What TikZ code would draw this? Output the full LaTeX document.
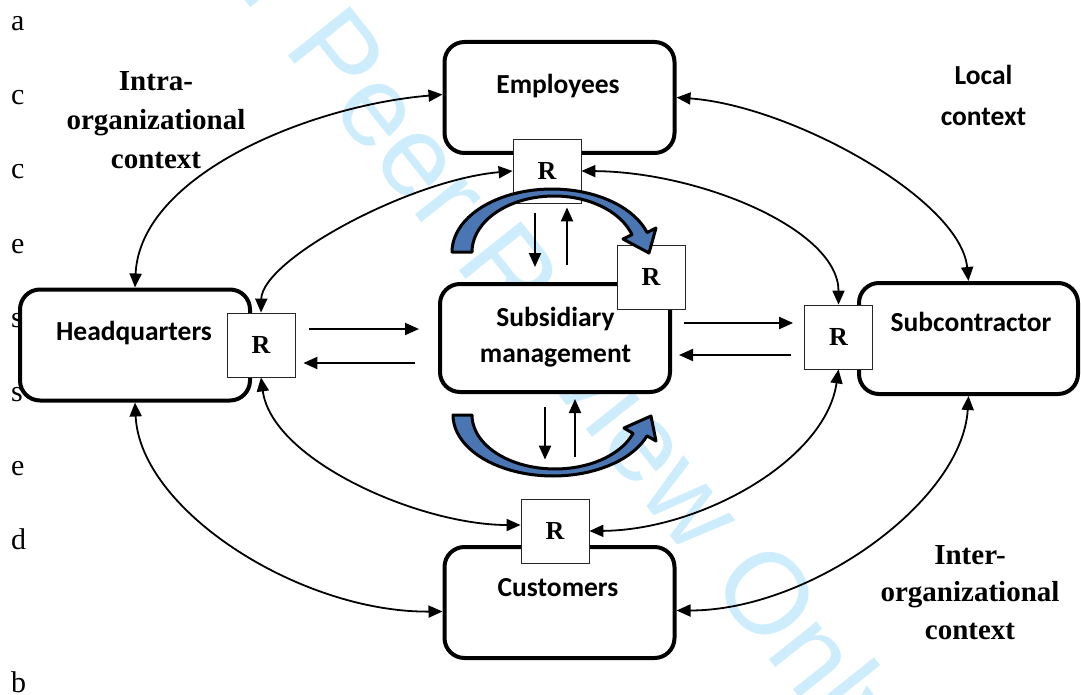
\documentclass[tikz,border=0pt]{standalone}
\usepackage{fontspec}
\setmainfont{Liberation Serif}
\newfontfamily\calibri{Carlito}
\newfontfamily\wmarkfont{Liberation Sans}
\usetikzlibrary{arrows.meta,calc}
\definecolor{wmblue}{RGB}{206,237,252}
\definecolor{bandblue}{RGB}{74,118,180}
\pgfdeclarelayer{background}
\pgfsetlayers{background,main}

\begin{document}
\begin{tikzpicture}[x=1pt,y=-1pt,
    unit/.style={draw,line width=4pt,rounded corners=20pt,fill=white,minimum width=230pt,minimum height=111pt,inner sep=0pt},
    unitlbl/.style={font=\calibri\bfseries\fontsize{27.5}{35.7}\selectfont,align=center,inner sep=0pt},
    rbox/.style={draw=black!85,line width=0.8pt,fill=white,minimum width=68pt,minimum height=64pt,inner sep=0pt,font=\bfseries\fontsize{26}{30}\selectfont},
    ctx/.style={font=\bfseries\fontsize{29}{38}\selectfont,align=center,inner sep=0pt},
    link/.style={{Triangle[length=14pt,width=12pt]}-{Triangle[length=14pt,width=12pt]},line width=1.8pt},
    flow/.style={-{Triangle[length=14pt,width=12pt]},line width=2pt},
    band/.style={fill=bandblue,draw=black,line width=3pt,line join=round}]
    \useasboundingbox (0,0) rectangle (1081,695);

    % watermark and line letters of the review copy
    \begin{pgfonlayer}{background}
        \node[rotate=-51.5,text=wmblue,font=\wmarkfont\fontsize{115}{115}\selectfont,inner sep=0pt] (wmark) at (529,310) {For Peer Review Only};
        \foreach \ch/\yy in {a/31,c/105,c/179,e/253,s/327,s/401,e/475,d/549,b/692} {
            \node[anchor=base west,inner sep=0pt,font=\fontsize{30}{36}\selectfont] (line\yy) at (11,\yy) {\ch};
        };
    \end{pgfonlayer}

    % units
    \node[unit] (emp) at (559.5,97.5) {};
    \node[unit,minimum height=108pt] (subm) at (555,338) {};
    \node[unit] (hq) at (135,345) {};
    \node[unit,minimum width=219pt] (sub) at (968.5,338.5) {};
    \node[unit] (cust) at (559.5,602.5) {};

    \node[unitlbl,anchor=base] (emptxt) at (558,94) {Employees};
    \node[unitlbl] (submtxt) at (555.5,337) {Subsidiary\\management};
    \node[unitlbl,anchor=base] (hqtxt) at (134,340) {Headquarters};
    \node[unitlbl,anchor=base] (subtxt) at (971,331.7) {Subcontractor};
    \node[unitlbl,anchor=base] (custtxt) at (558,596.7) {Customers};

    % contexts
    \node[ctx,font=\bfseries\fontsize{29}{39}\selectfont] (intra) at (156,120) {Intra-\\organizational\\context};
    \node[unitlbl,font=\calibri\bfseries\fontsize{27.5}{41}\selectfont] (local) at (983.5,95.5) {Local\\context};
    \node[ctx,font=\bfseries\fontsize{29}{37.5}\selectfont] (inter) at (970,592.5) {Inter-\\organizational\\context};

    % R boxes
    \node[rbox] (rtop) at (547,171) {R};
    \node[rbox] (rmid) at (651,277) {R};
    \node[rbox] (rleft) at (261,345) {R};
    \node[rbox] (rright) at (838.5,337) {R};
    \node[rbox] (rbot) at (555,531) {R};

    % curved blue arrows
    \draw[band] plot[domain=180:342,samples=40] ({552+100*cos(\x)},{252+63*sin(\x)})
        -- (656,228) -- (649,253) -- (623,239)
        -- plot[domain=342:180,samples=40] ({554+82*cos(\x)},{252+56*sin(\x)}) -- cycle;
    \draw[band] plot[domain=180:20,samples=40] ({553+100*cos(\x)},{415+61*sin(\x)})
        -- (656,441) -- (651,416) -- (624,428)
        -- plot[domain=20:180,samples=40] ({555+83*cos(\x)},{415+54*sin(\x)}) -- cycle;

    % outer links
    \draw[link] (hq.north) .. controls +(5,-113) and +(-132,11) .. ([yshift=3pt]emp.west);
    \draw[link] (emp.east) .. controls +(114,8) and +(-8,-82) .. (sub.north);
    \draw[link] (hq.south) .. controls +(5,108) and +(-142,1) .. ([yshift=-9pt]cust.west);
    \draw[link] (sub.south) .. controls +(-6,105) and +(134,0) .. ([yshift=-8pt]cust.east);

    % inner links
    \draw[link] (rleft.north) .. controls +(1,-53) and +(-103,9) .. (rtop.west);
    \draw[link] (rtop.east) .. controls +(119,1) and +(0,-75) .. (rright.north);
    \draw[link] (rleft.south) .. controls +(11,83) and +(-101,0) .. ([yshift=6pt]rbot.west);
    \draw[link] (rright.south) .. controls +(-13,91) and +(111,-1) .. (rbot.east);

    % flows to and from subsidiary management
    \draw[flow] ($(rleft.east)+(14,-16)$) -- ($(subm.west)+(-19,-9)$);
    \draw[flow] ($(subm.west)+(-23,25)$) -- ($(rleft.east)+(8,18)$);
    \draw[flow] ($(subm.east)+(12,-15)$) -- ($(rright.west)+(-11,-14)$);
    \draw[flow] ($(rright.west)+(-13,18)$) -- ($(subm.east)+(7,17)$);
    \draw[flow] ($(rtop.south)+(-12,10)$) -- ($(subm.north)+(-20,-15)$);
    \draw[flow] ($(subm.north)+(12,-17)$) -- ($(rtop.south)+(20,4)$);
    \draw[flow] ($(subm.south)+(-10,13)$) -- ($(rbot.north)+(-10,-39)$);
    \draw[flow] ($(rbot.north)+(20,-42)$) -- ($(subm.south)+(20,5)$);
\end{tikzpicture}
\end{document}
